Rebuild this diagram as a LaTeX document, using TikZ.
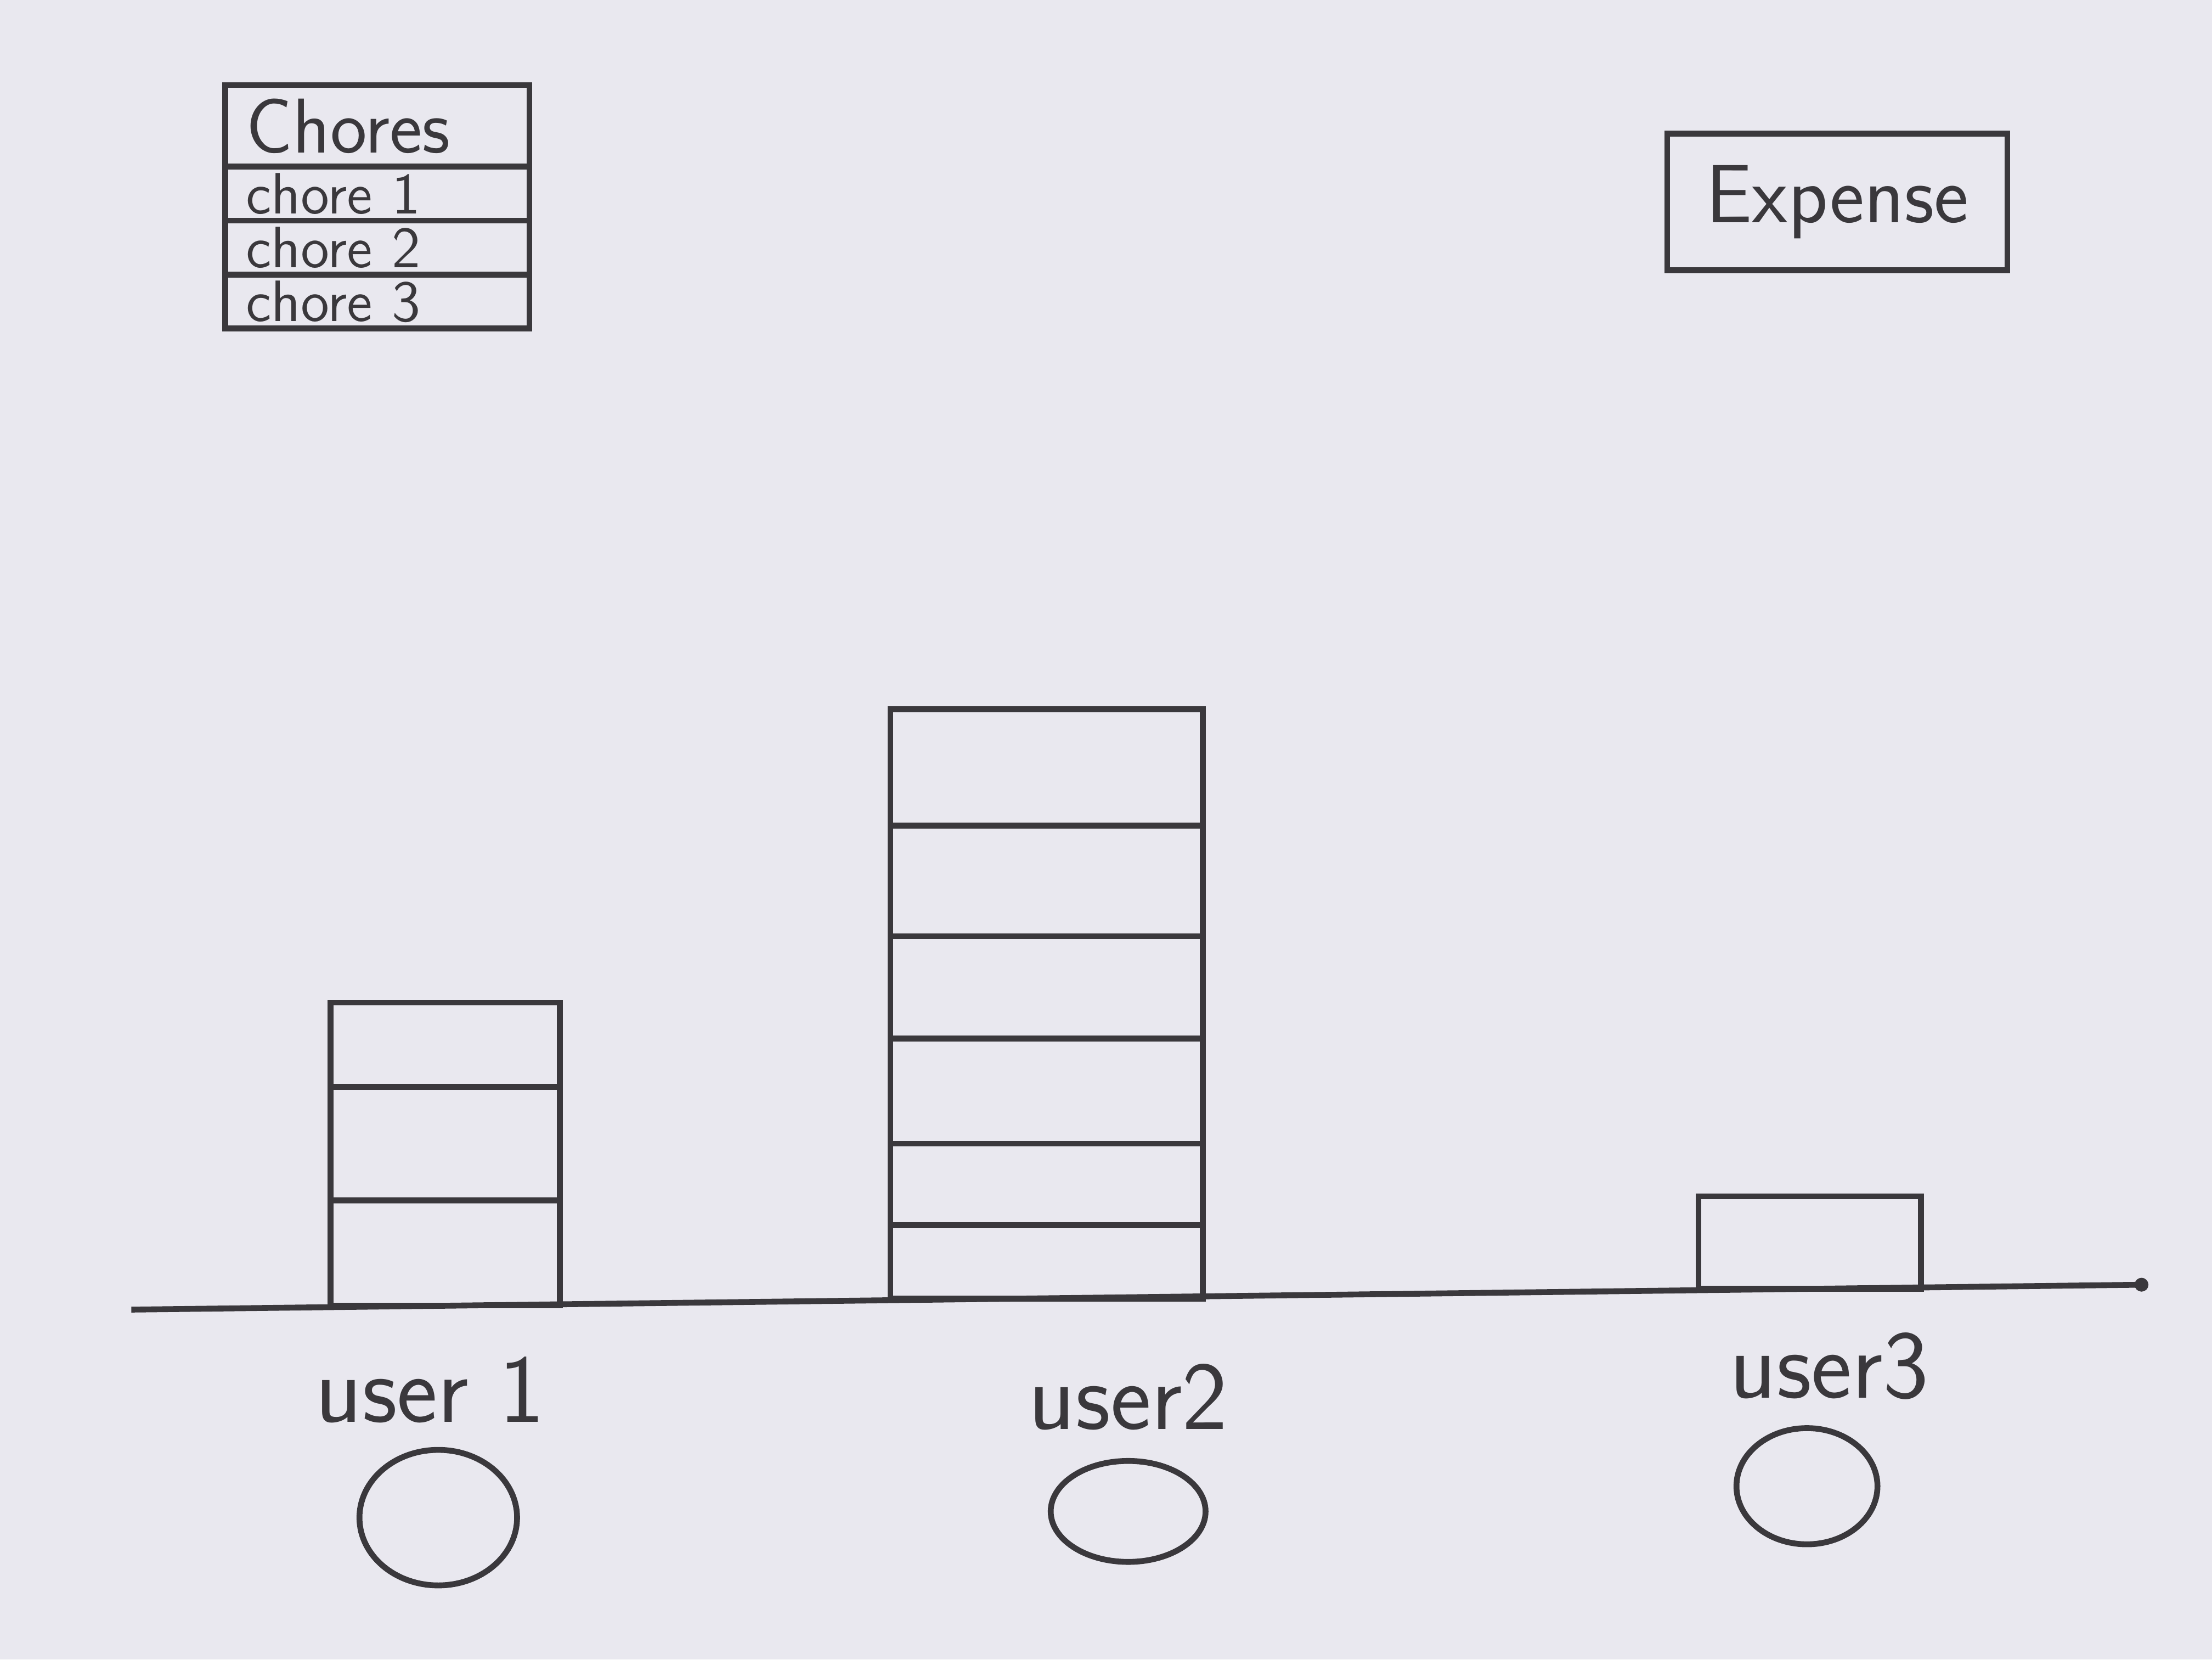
\documentclass[tikz,border=0pt]{standalone}
\usepackage{tikz}
\usetikzlibrary{positioning,shapes.geometric}
\definecolor{paper}{RGB}{233,232,239}
\definecolor{pencil}{RGB}{58,56,60}
\tikzset{
  sketch/.style={draw=pencil, line width=1.2pt, text=pencil},
  headbox/.style={sketch, rectangle, text width=1.9cm, inner xsep=0.15cm, inner ysep=0pt,
    minimum height=0.59cm, outer sep=0pt, align=left, font=\sffamily\fontsize{16}{18}\selectfont},
  chorebox/.style={sketch, rectangle, text width=1.9cm, inner xsep=0.15cm, inner ysep=0pt,
    minimum height=0.39cm, outer sep=0pt, align=left, font=\sffamily\fontsize{12}{13}\selectfont},
  expensebox/.style={sketch, rectangle, minimum width=2.46cm, minimum height=0.99cm,
    font=\sffamily\fontsize{17}{20}\selectfont},
  seg/.style={sketch, rectangle, inner sep=0pt, outer sep=0pt},
  userlabel/.style={font=\sffamily\fontsize{20}{24}\selectfont, text=pencil},
  avatar/.style={sketch, ellipse, inner sep=0pt},
}
\begin{document}
\begin{tikzpicture}
  % paper
  \fill[paper] (0,0) rectangle (16,-12);

  % chores list
  \node[headbox] (chores) at (2.73,-0.91) {Chores};
  \node[chorebox, below=0pt of chores] (chore1) {chore 1};
  \node[chorebox, below=0pt of chore1] (chore2) {chore 2};
  \node[chorebox, below=0pt of chore2] (chore3) {chore 3};

  % expense button
  \node[expensebox] (expense) at (13.29,-1.46) {Expense};

  % axis
  \coordinate (axisL) at (0.95,-9.47);
  \coordinate (axisR) at (15.49,-9.29);
  \draw[sketch] (axisL) -- (axisR);
  \fill[pencil] (axisR) circle (0.05);

  % user 1 bar
  \node[seg, minimum width=1.66cm, minimum height=0.76cm, anchor=south] (u1a) at (3.22,-9.44) {};
  \node[seg, minimum width=1.66cm, minimum height=0.82cm, above=0pt of u1a] (u1b) {};
  \node[seg, minimum width=1.66cm, minimum height=0.61cm, above=0pt of u1b] (u1c) {};

  % user 2 bar
  \node[seg, minimum width=2.26cm, minimum height=0.53cm, anchor=south] (u2a) at (7.57,-9.39) {};
  \node[seg, minimum width=2.26cm, minimum height=0.59cm, above=0pt of u2a] (u2b) {};
  \node[seg, minimum width=2.26cm, minimum height=0.76cm, above=0pt of u2b] (u2c) {};
  \node[seg, minimum width=2.26cm, minimum height=0.74cm, above=0pt of u2c] (u2d) {};
  \node[seg, minimum width=2.26cm, minimum height=0.80cm, above=0pt of u2d] (u2e) {};
  \node[seg, minimum width=2.26cm, minimum height=0.84cm, above=0pt of u2e] (u2f) {};

  % user 3 bar
  \node[seg, minimum width=1.61cm, minimum height=0.67cm, anchor=south] (u3a) at (13.09,-9.32) {};

  % users
  \node[userlabel] (user1) at (3.11,-10.05) {user 1};
  \node[userlabel] (user2) at (8.16,-10.10) {user2};
  \node[userlabel] (user3) at (13.23,-9.88) {user3};
  \node[avatar, minimum width=1.14cm, minimum height=0.98cm, below=0.05cm of user1, xshift=0.06cm] (face1) {};
  \node[avatar, minimum width=1.12cm, minimum height=0.73cm, below=0.08cm of user2] (face2) {};
  \node[avatar, minimum width=1.02cm, minimum height=0.84cm, below=0.06cm of user3, xshift=-0.16cm] (face3) {};
\end{tikzpicture}
\end{document}
